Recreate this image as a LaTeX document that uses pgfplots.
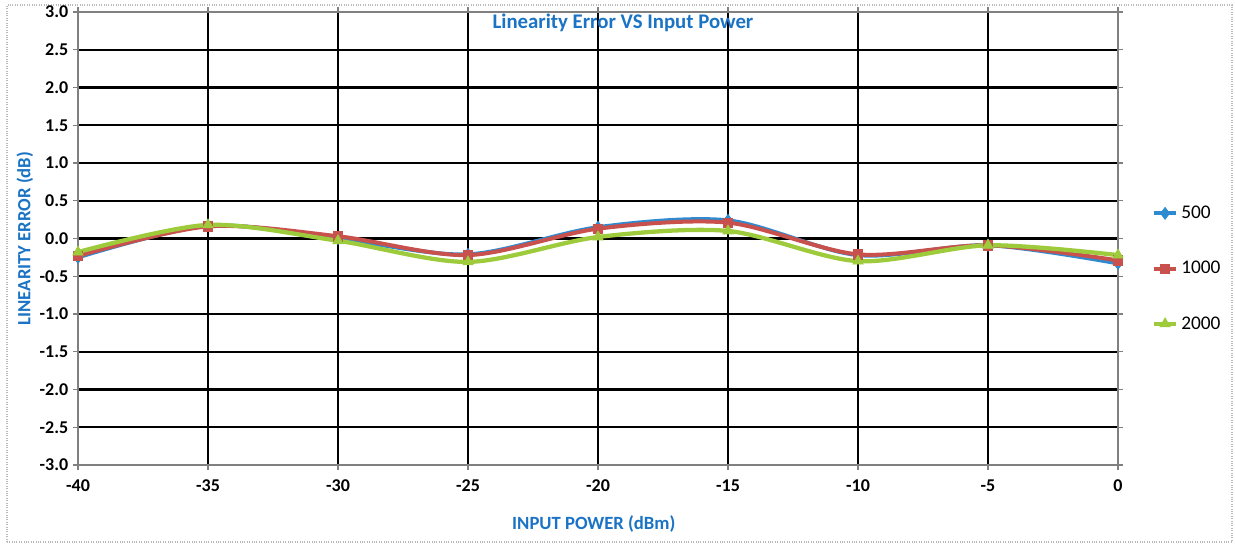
\documentclass[border=0pt]{standalone}
\usepackage{pgfplots}
\pgfplotsset{compat=1.18}
\usepackage{fontspec}
\setmainfont{Carlito}
\definecolor{sblue}{HTML}{2E8BCF}
\definecolor{sred}{HTML}{C8504D}
\definecolor{sgreen}{HTML}{9DCB3C}
\definecolor{tblue}{HTML}{1A73C4}
\begin{document}
\begin{tikzpicture}
\path[use as bounding box] (0,0) rectangle (926.25pt,409.5pt);
\draw[gray!55, line width=0.8pt, densely dotted] (5.25pt,3pt) rectangle (924pt,405.75pt);
\begin{axis}[
  at={(58.5pt,60.75pt)}, anchor=south west,
  scale only axis, width=780pt, height=339.75pt,
  xmin=-40, xmax=0, ymin=-3, ymax=3,
  xtick={-40,-35,...,0}, ytick={-3,-2.5,...,3},
  grid=major, major grid style={black, line width=1.6pt},
  axis line style={gray, line width=1.2pt},
  tick align=outside, major tick length=3.75pt,
  tick style={gray, line width=0.8pt},
  /pgf/number format/assume math mode=true,
  yticklabel style={/pgf/number format/fixed, /pgf/number format/fixed zerofill, /pgf/number format/precision=1, font=\bfseries\fontsize{13.5}{15}\selectfont},
  xticklabel style={font=\bfseries\fontsize{13.5}{15}\selectfont, yshift=-4pt},
  title={Linearity Error VS Input Power},
  title style={at={(axis description cs:0.524,0.958)}, anchor=center, font=\bfseries\fontsize{15.6}{17}\selectfont, text=tblue},
  xlabel={INPUT POWER (dBm)},
  xlabel style={at={(axis description cs:0.496,-0.130)}, anchor=center, font=\bfseries\fontsize{14}{16}\selectfont, text=tblue},
  ylabel={LINEARITY ERROR (dB)},
  ylabel style={at={(axis description cs:-0.051,0.5)}, anchor=center, font=\bfseries\fontsize{14}{16}\selectfont, text=tblue},
  legend style={at={(axis description cs:1.032,0.578)}, anchor=north west, draw=none, fill=none,
     font=\fontsize{14.5}{16}\selectfont, row sep=26.5pt, inner sep=0pt},
  legend cell align=left,
  clip=false,
]
\addplot[sblue, line width=3pt, smooth, mark=diamond*, mark size=4.5pt, mark options={fill=sblue, line width=0.5pt}]
  coordinates {(-40,-0.25) (-35,0.17) (-30,0.00) (-25,-0.21) (-20,0.15) (-15,0.24) (-10,-0.22) (-5,-0.09) (0,-0.33)};
\addlegendentry{500}
\addplot[sred, line width=3pt, smooth, mark=square*, mark size=3.5pt, mark options={fill=sred, line width=0.5pt}]
  coordinates {(-40,-0.23) (-35,0.16) (-30,0.03) (-25,-0.22) (-20,0.13) (-15,0.21) (-10,-0.21) (-5,-0.09) (0,-0.29)};
\addlegendentry{1000}
\addplot[sgreen, line width=3.2pt, smooth, mark=triangle*, mark size=4.5pt, mark options={fill=sgreen, line width=0.5pt}]
  coordinates {(-40,-0.18) (-35,0.18) (-30,-0.03) (-25,-0.31) (-20,0.02) (-15,0.10) (-10,-0.30) (-5,-0.09) (0,-0.22)};
\addlegendentry{2000}
\end{axis}
\end{tikzpicture}
\end{document}
